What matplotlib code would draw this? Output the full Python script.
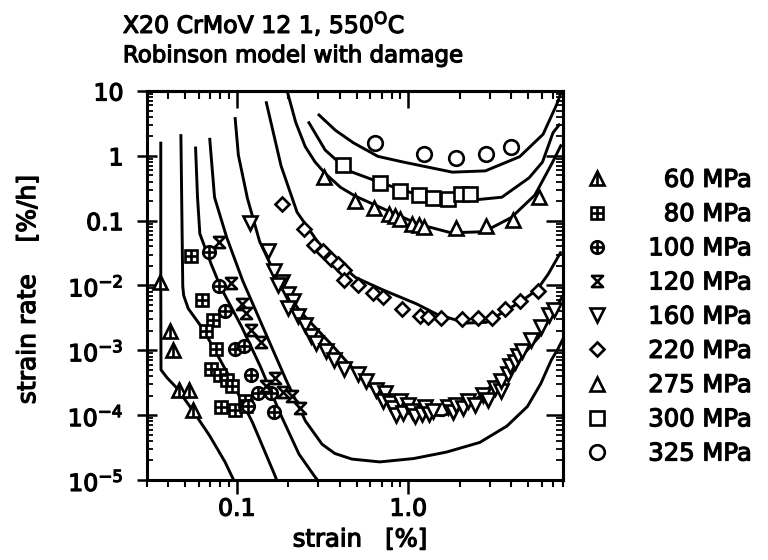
import matplotlib
matplotlib.use('Agg')
import matplotlib.pyplot as plt
from matplotlib import patheffects
from matplotlib.path import Path
from matplotlib.ticker import FixedLocator, LogLocator, NullFormatter

plt.rcParams['font.family'] = ['DejaVu Sans']
plt.rcParams['mathtext.fontset'] = 'dejavusans'

# MODEL CURVES (strain in %, strain rate in %/h). #
fit60_strain = [0.0361, 0.0361, 0.0362, 0.0392, 0.0447, 0.0558, 0.0696, 0.0855, 0.096]
fit60_rate = [1.57, 9.9e-3, 5.0e-4, 3.8e-4, 2.63e-4, 1.15e-4, 4.8e-5, 1.9e-5, 1.0e-5]

fit80_strain = [0.0473, 0.0485, 0.0491, 0.0522, 0.0635, 0.0925, 0.124, 0.167, 0.171]
fit80_rate = [2.05, 9.7e-3, 7.0e-3, 4.4e-3, 2.15e-3, 3.57e-4, 7.6e-5, 1.18e-5, 1.0e-5]

fit100_strain = [0.0576, 0.0591, 0.061, 0.071, 0.0807, 0.107, 0.138, 0.179, 0.231, 0.284, 0.31]
fit100_rate = [1.32, 0.232, 0.0627, 0.0214, 9.4e-3, 2.3e-3, 5.5e-4, 1.07e-4, 2.5e-5, 1.15e-5, 8.5e-6]

fit120_strain = [0.0697, 0.0743, 0.0875, 0.1085, 0.151, 0.195, 0.252, 0.315, 0.374, 0.47, 0.683,
                 1.076, 1.68, 2.62, 3.77, 4.96, 5.93, 6.84, 7.4, 8.0]
fit120_rate = [1.8, 0.229, 0.055, 0.0118, 1.59e-3, 3.4e-4, 8.1e-5, 3.55e-5, 2.56e-5, 2.1e-5, 1.9e-5,
               2.14e-5, 2.7e-5, 3.8e-5, 6.8e-5, 1.36e-4, 3.05e-4, 7.1e-4, 1.0e-3, 1.5e-3]

fit160_strain = [0.098, 0.1023, 0.1155, 0.136, 0.169, 0.234, 0.36, 0.562, 0.87, 1.2, 1.6, 2.1,
                 2.65, 4.22, 5.78, 7.3, 8.0]
fit160_rate = [3.76, 1.03, 0.222, 0.048, 0.0142, 4.0e-3, 1.2e-3, 3.2e-4, 1.38e-4, 1.02e-4, 9.8e-5,
               1.3e-4, 2.0e-4, 6.3e-4, 1.6e-3, 4.6e-3, 7.0e-3]

fit220_strain = [0.149, 0.1815, 0.225, 0.32, 0.493, 0.716, 1.12, 1.47, 2.18, 2.86, 3.65, 4.47,
                 5.63, 6.56, 7.73]
fit220_rate = [6.6, 0.70, 0.135, 0.0355, 0.0133, 8.5e-3, 5.2e-3, 3.6e-3, 2.63e-3, 2.7e-3, 4.0e-3,
               5.5e-3, 8.5e-3, 0.015, 0.032]

fit275_strain = [0.197, 0.221, 0.251, 0.286, 0.326, 0.403, 0.49, 0.731, 1.15, 1.78, 2.77, 4.0,
                 5.48, 6.94, 7.76]
fit275_rate = [10.0, 3.28, 1.39, 0.81, 0.544, 0.327, 0.24, 0.149, 0.088, 0.065, 0.0675, 0.112,
               0.248, 0.79, 1.43]

fit300_strain = [0.264, 0.328, 0.445, 0.736, 1.16, 2.26, 3.52, 5.07, 6.07, 7.0, 7.6]
fit300_rate = [3.24, 1.23, 0.593, 0.363, 0.247, 0.205, 0.23, 0.457, 0.8, 2.28, 3.0]

fit325_strain = [0.302, 0.377, 0.479, 0.667, 0.93, 1.81, 2.82, 4.47, 6.12, 7.35, 7.8]
fit325_rate = [4.27, 2.47, 1.59, 0.98, 0.805, 0.56, 0.586, 0.97, 2.15, 6.2, 9.5]

# MEASURED CREEP DATA. #
exp60_strain = [0.0356, 0.0407, 0.0428, 0.0459, 0.0525, 0.0558]
exp60_rate = [0.0114, 2.0e-3, 1.02e-3, 2.45e-4, 2.4e-4, 1.18e-4]

exp80_strain = [0.0545, 0.063, 0.0727, 0.066, 0.076, 0.071, 0.0798, 0.0875, 0.0934, 0.081, 0.098,
                0.112, 0.1135]
exp80_rate = [0.029, 6.0e-3, 2.9e-3, 2.0e-3, 1.05e-3, 5.2e-4, 4.2e-4, 3.5e-4, 2.8e-4, 1.34e-4,
              1.18e-4, 1.68e-4, 1.4e-4]

exp100_strain = [0.0694, 0.0786, 0.0857, 0.098, 0.11, 0.121, 0.134, 0.1167, 0.158, 0.165]
exp100_rate = [0.0328, 9.8e-3, 4.1e-3, 1.03e-3, 1.18e-3, 4.1e-4, 2.2e-4, 1.4e-4, 2.2e-4, 1.1e-4]

exp120_strain = [0.0786, 0.0923, 0.108, 0.1135, 0.121, 0.139, 0.167, 0.149, 0.187, 0.211, 0.234]
exp120_rate = [0.0465, 0.0111, 5.2e-3, 3.8e-3, 2.07e-3, 1.34e-3, 3.8e-4, 2.8e-4, 2.3e-4, 2.0e-4,
               1.29e-4]

exp160_strain = [0.1195, 0.153, 0.165, 0.185, 0.175, 0.2, 0.214, 0.2, 0.2275, 0.249, 0.273, 0.291,
                 0.332, 0.369, 0.42, 0.513, 0.57, 0.65, 0.734, 0.713, 0.781, 0.813, 0.845, 0.895,
                 0.93, 0.995, 1.06, 1.10, 1.21, 1.25, 1.33, 1.39, 1.70, 1.82, 1.89, 2.08, 2.22,
                 2.47, 2.72, 2.91, 3.21, 3.47, 3.48, 3.83, 3.95, 4.22, 4.4, 4.59, 5.19, 5.96,
                 6.65, 7.12]
exp160_rate = [0.092, 0.0335, 0.017, 0.0114, 0.01, 7.4e-3, 5.8e-3, 4.5e-3, 3.4e-3, 2.5e-3, 1.65e-3,
               1.28e-3, 9.6e-4, 7.1e-4, 5.1e-4, 4.3e-4, 3.4e-4, 2.46e-4, 2.2e-4, 1.66e-4, 1.54e-4,
               1.29e-4, 1.0e-4, 1.63e-4, 1.07e-4, 1.41e-4, 1.14e-4, 9.8e-5, 1.05e-4, 1.35e-4,
               1.04e-4, 1.15e-4, 1.32e-4, 1.1e-4, 1.45e-4, 1.3e-4, 1.65e-4, 1.43e-4, 2.03e-4,
               1.69e-4, 2.66e-4, 2.39e-4, 3.39e-4, 4.3e-4, 5.7e-4, 6.6e-4, 8.1e-4, 9.7e-4, 1.46e-3,
               2.3e-3, 3.5e-3, 4.2e-3]

exp220_strain = [0.1845, 0.246, 0.284, 0.319, 0.355, 0.389, 0.421, 0.42, 0.512, 0.625, 0.714, 0.918,
                 1.166, 1.31, 1.56, 2.07, 2.57, 3.1, 3.69, 4.47, 5.7]
exp220_rate = [0.181, 0.0735, 0.0427, 0.0343, 0.0257, 0.0214, 0.0172, 0.012, 0.01, 7.7e-3, 6.6e-3,
               4.4e-3, 3.4e-3, 3.24e-3, 3.2e-3, 3.04e-3, 3.1e-3, 3.1e-3, 4.3e-3, 5.7e-3, 8.3e-3]

exp275_strain = [0.322, 0.491, 0.632, 0.771, 0.835, 0.892, 1.046, 1.16, 1.245, 1.91, 2.86, 4.1, 5.78]
exp275_rate = [0.472, 0.203, 0.156, 0.125, 0.116, 0.107, 0.089, 0.085, 0.079, 0.077, 0.083, 0.104,
               0.23]

exp300_strain = [0.416, 0.681, 0.898, 1.158, 1.395, 1.71, 2.03, 2.29]
exp300_rate = [0.711, 0.377, 0.289, 0.247, 0.22, 0.216, 0.256, 0.254]

exp325_strain = [0.643, 1.236, 1.89, 2.83, 3.97]
exp325_rate = [1.56, 1.05, 0.92, 1.07, 1.39]

legend_labels = ['\u200760 MPa', '\u200780 MPa', '100 MPa', '120 MPa', '160 MPa', '220 MPa',
                 '275 MPa', '300 MPa', '325 MPa']


def main():
    # thicker strokes for all the lettering, like the plotter font of the original
    heavy = [patheffects.withStroke(linewidth=0.9, foreground='black')]
    hourglass = Path([(-1, 1), (1, 1), (-1, -1), (1, -1), (-1, 1)],
                     [Path.MOVETO, Path.LINETO, Path.LINETO, Path.LINETO, Path.CLOSEPOLY])

    fig = plt.figure(figsize=(7.68, 5.6), dpi=100)
    ax = fig.add_axes([0.1914, 0.1429, 0.5417, 0.6946])
    ax.set_xscale('log')
    ax.set_yscale('log')

    # MODEL LINES. #
    fits = [(fit60_strain, fit60_rate), (fit80_strain, fit80_rate), (fit100_strain, fit100_rate),
            (fit120_strain, fit120_rate), (fit160_strain, fit160_rate), (fit220_strain, fit220_rate),
            (fit275_strain, fit275_rate), (fit300_strain, fit300_rate), (fit325_strain, fit325_rate)]
    for strain, rate in fits:
        ax.plot(strain, rate, 'k-', linewidth=2.1, zorder=2)

    # MEASURED POINTS; SOME SYMBOLS ARE TWO MARKERS ON TOP OF EACH OTHER. #
    exps = [(exp60_strain, exp60_rate, ['^', '|'], 9.5),
            (exp80_strain, exp80_rate, ['s', '+'], 9),
            (exp100_strain, exp100_rate, ['o', '+'], 9),
            (exp120_strain, exp120_rate, [hourglass], 8),
            (exp160_strain, exp160_rate, ['v'], 9.5),
            (exp220_strain, exp220_rate, ['D'], 7.5),
            (exp275_strain, exp275_rate, ['^'], 10),
            (exp300_strain, exp300_rate, ['s'], 10),
            (exp325_strain, exp325_rate, ['o'], 10.5)]
    handles = []
    for strain, rate, markers, size in exps:
        parts = []
        for m in markers:
            h, = ax.plot(strain, rate, linestyle='none', marker=m, markersize=size,
                         markerfacecolor='white' if m not in ('|', '+') else 'black',
                         markeredgecolor='black', markeredgewidth=1.9, zorder=3)
            parts.append(h)
        handles.append(tuple(parts))

    ax.set_xlim(0.03, 8.0)
    ax.set_ylim(1e-5, 10)

    # TICKS: OUTSIDE AT THE BOTTOM, INSIDE ON TOP AND RIGHT. #
    ax.xaxis.set_major_locator(FixedLocator([0.1, 1.0]))
    ax.set_xticklabels(['0.1', '1.0'])
    ax.xaxis.set_minor_locator(LogLocator(base=10, subs=range(2, 10)))
    ax.xaxis.set_minor_formatter(NullFormatter())
    ax.yaxis.set_major_locator(FixedLocator([1e-5, 1e-4, 1e-3, 1e-2, 0.1, 1, 10]))
    ax.set_yticklabels(['$10^{-5}$', '$10^{-4}$', '$10^{-3}$', '$10^{-2}$', '0.1', '1', '10'])
    ax.yaxis.set_minor_locator(LogLocator(base=10, subs=range(2, 10)))
    ax.yaxis.set_minor_formatter(NullFormatter())
    ax.tick_params(axis='x', which='major', direction='out', length=10, width=1.8, pad=2,
                   labelsize=17)
    ax.tick_params(axis='x', which='minor', direction='out', length=5, width=1.5)
    ax.tick_params(axis='y', which='major', direction='inout', length=14, width=1.8, pad=10,
                   labelsize=17)
    ax.tick_params(axis='y', which='minor', direction='in', length=4, width=1.3)
    for lab in ax.get_xticklabels() + ax.get_yticklabels():
        lab.set_path_effects(heavy)

    top = ax.secondary_xaxis('top')
    top.xaxis.set_major_locator(FixedLocator([0.1, 1.0]))
    top.xaxis.set_minor_locator(LogLocator(base=10, subs=range(2, 10)))
    top.xaxis.set_major_formatter(NullFormatter())
    top.xaxis.set_minor_formatter(NullFormatter())
    top.tick_params(which='major', direction='in', length=12, width=1.8)
    top.tick_params(which='minor', direction='in', length=6, width=1.5)

    right = ax.secondary_yaxis('right')
    right.yaxis.set_major_locator(FixedLocator([1e-5, 1e-4, 1e-3, 1e-2, 0.1, 1, 10]))
    right.yaxis.set_minor_locator(LogLocator(base=10, subs=range(2, 10)))
    right.yaxis.set_major_formatter(NullFormatter())
    right.yaxis.set_minor_formatter(NullFormatter())
    right.tick_params(which='major', direction='in', length=12, width=1.8)
    right.tick_params(which='minor', direction='in', length=5, width=1.3)

    for spine in list(ax.spines.values()) + list(top.spines.values()) + list(right.spines.values()):
        spine.set_linewidth(2.2)

    ax.set_xlabel('strain   [%]', fontsize=17.5, path_effects=heavy)
    ax.xaxis.set_label_coords(0.512, -0.122)
    ax.set_ylabel('strain rate    [%/h]', fontsize=18, path_effects=heavy)
    ax.yaxis.set_label_coords(-0.257, 0.49)

    fig.text(0.160, 0.941, r'X20 CrMoV 12 1, 550$^{\mathrm{O}}$C', fontsize=17,
             path_effects=heavy)
    fig.text(0.160, 0.889, 'Robinson model with damage', fontsize=16.5, path_effects=heavy)

    leg = fig.legend(handles=handles, labels=legend_labels, loc='upper left',
                     bbox_to_anchor=(0.746, 0.722), frameon=False, fontsize=17.5, borderpad=0,
                     handlelength=1.0, handletextpad=1.6, labelspacing=0.42)
    for txt in leg.get_texts():
        txt.set_path_effects(heavy)

    fig.savefig('out.png', dpi=100)


if __name__ == '__main__':
    main()
